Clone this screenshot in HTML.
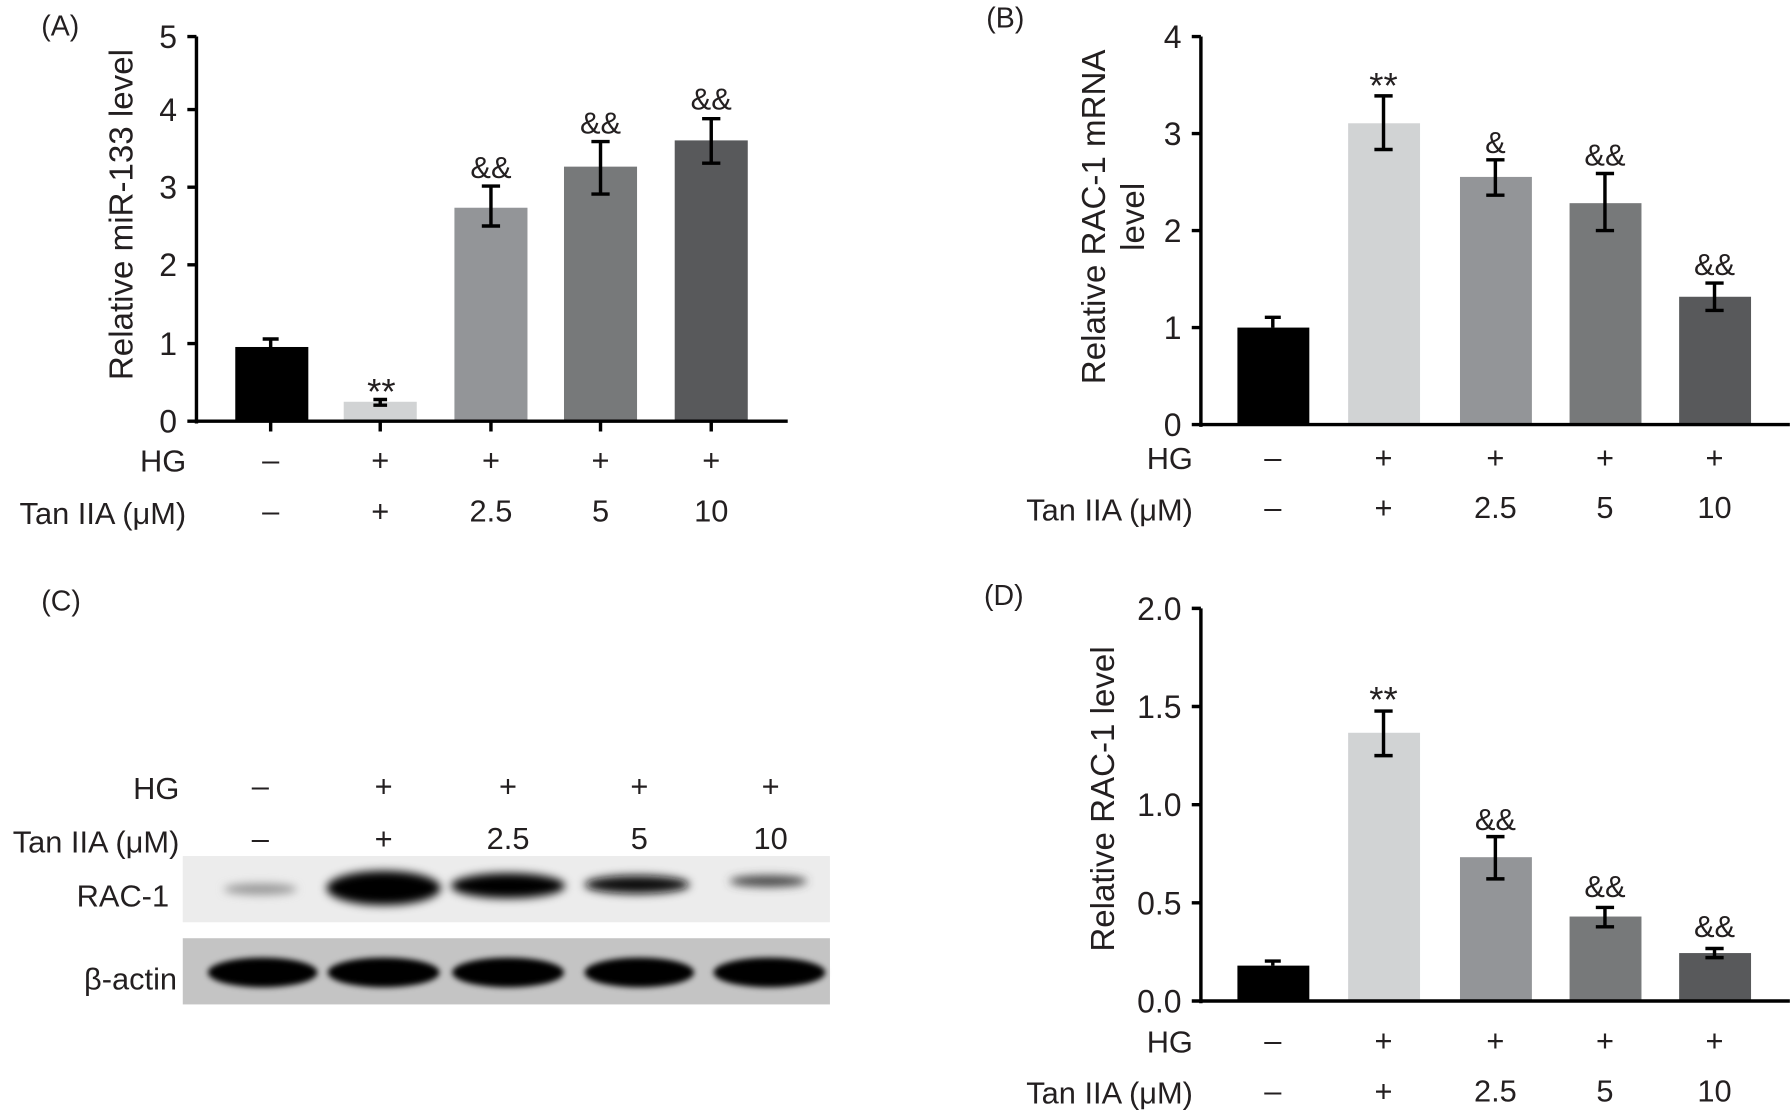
<!DOCTYPE html>
<html><head><meta charset="utf-8"><style>html,body{margin:0;padding:0;background:#fff}svg{display:block}text{font-family:"Liberation Sans",sans-serif;fill:#231f20}</style></head>
<body>
<svg width="1790" height="1114" viewBox="0 0 1568 976" xmlns="http://www.w3.org/2000/svg">
<defs>
<filter id="b1" x="-30%" y="-100%" width="160%" height="300%"><feGaussianBlur stdDeviation="4"/></filter>
<filter id="b2" x="-30%" y="-100%" width="160%" height="300%"><feGaussianBlur stdDeviation="2.5"/></filter>
</defs>
<g font-size="27" stroke-linecap="butt">
<!-- Panel A -->
<text x="36" y="31" font-size="25">(A)</text>
<text transform="translate(116,188) rotate(-90)" text-anchor="middle" font-size="29">Relative miR-133 level</text>
<g text-anchor="end" font-size="28">
<text x="155" y="42">5</text><text x="155" y="106">4</text><text x="155" y="174">3</text><text x="155" y="242">2</text><text x="155" y="311">1</text><text x="155" y="379">0</text>
</g>
<rect x="206" y="304" width="64" height="65" fill="#000"/>
<rect x="301" y="352" width="64" height="17" fill="#d1d3d4"/>
<rect x="398" y="182" width="64" height="187" fill="#939598"/>
<rect x="494" y="146" width="64" height="223" fill="#77797a"/>
<rect x="591" y="123" width="64" height="246" fill="#58595b"/>
<g stroke="#000" stroke-width="3" fill="none">
<path d="M172 32V371M164 32H172M164 96H172M164 164H172M164 232H172M164 301H172M164 369H172M170 369H690"/>
<path d="M237 369V378M333 369V378M430 369V378M526 369V378M623 369V378"/>
<path d="M237 304V297M230 297H244"/>
<path d="M333 354V350M327 350H339M327 355H339"/>
<path d="M430 198V163M422 163H438M422 198H438"/>
<path d="M526 170V124M518 124H534M518 170H534"/>
<path d="M623 143V104M615 104H631M615 143H631"/>
</g>
<g text-anchor="middle"><text x="334" y="354" font-size="32">**</text><text x="430" y="156">&amp;&amp;</text><text x="526" y="117">&amp;&amp;</text><text x="623" y="96">&amp;&amp;</text></g>
<g text-anchor="middle"><text x="237" y="412">–</text><text x="333" y="412">+</text><text x="430" y="412">+</text><text x="526" y="412">+</text><text x="623" y="412">+</text>
<text x="237" y="457">–</text><text x="333" y="457">+</text><text x="430" y="457">2.5</text><text x="526" y="457">5</text><text x="623" y="457">10</text></g>
<text x="163" y="413" text-anchor="end">HG</text><text x="163" y="459" text-anchor="end">Tan IIA (μM)</text>

<!-- Panel B -->
<text x="864" y="24" font-size="25">(B)</text>
<text transform="translate(968,190) rotate(-90)" text-anchor="middle" font-size="29">Relative RAC-1 mRNA</text>
<text transform="translate(1002,190) rotate(-90)" text-anchor="middle" font-size="29">level</text>
<g text-anchor="end" font-size="28"><text x="1035" y="42">4</text><text x="1035" y="127">3</text><text x="1035" y="212">2</text><text x="1035" y="297">1</text><text x="1035" y="382">0</text></g>
<rect x="1084" y="287" width="63" height="85" fill="#000"/>
<rect x="1181" y="108" width="63" height="264" fill="#d1d3d4"/>
<rect x="1279" y="155" width="63" height="217" fill="#939598"/>
<rect x="1375" y="178" width="63" height="194" fill="#77797a"/>
<rect x="1471" y="260" width="63" height="112" fill="#58595b"/>
<g stroke="#000" stroke-width="3" fill="none">
<path d="M1052 32V374M1044 32H1052M1044 117H1052M1044 202H1052M1044 287H1052M1044 372H1052M1050 372H1568"/>
<path d="M1115 287V278M1108 278H1122"/>
<path d="M1212 131V84M1204 84H1220M1204 131H1220"/>
<path d="M1310 171V140M1302 140H1318M1302 171H1318"/>
<path d="M1406 202V152M1398 152H1414M1398 202H1414"/>
<path d="M1502 272V248M1494 248H1510M1494 272H1510"/>
</g>
<g text-anchor="middle"><text x="1212" y="86" font-size="32">**</text><text x="1310" y="134">&amp;</text><text x="1406" y="145">&amp;&amp;</text><text x="1502" y="241">&amp;&amp;</text></g>
<g text-anchor="middle"><text x="1115" y="410">–</text><text x="1212" y="410">+</text><text x="1310" y="410">+</text><text x="1406" y="410">+</text><text x="1502" y="410">+</text>
<text x="1115" y="454">–</text><text x="1212" y="454">+</text><text x="1310" y="454">2.5</text><text x="1406" y="454">5</text><text x="1502" y="454">10</text></g>
<text x="1045" y="411" text-anchor="end">HG</text><text x="1045" y="456" text-anchor="end">Tan IIA (μM)</text>

<!-- Panel D -->
<text x="862" y="530" font-size="25">(D)</text>
<text transform="translate(976,700) rotate(-90)" text-anchor="middle" font-size="29">Relative RAC-1 level</text>
<g text-anchor="end" font-size="28"><text x="1035" y="543">2.0</text><text x="1035" y="629">1.5</text><text x="1035" y="715">1.0</text><text x="1035" y="801">0.5</text><text x="1035" y="887">0.0</text></g>
<rect x="1084" y="846" width="63" height="31" fill="#000"/>
<rect x="1181" y="642" width="63" height="235" fill="#d1d3d4"/>
<rect x="1279" y="751" width="63" height="126" fill="#939598"/>
<rect x="1375" y="803" width="63" height="74" fill="#77797a"/>
<rect x="1471" y="835" width="63" height="42" fill="#58595b"/>
<g stroke="#000" stroke-width="3" fill="none">
<path d="M1052 533V879M1044 533H1052M1044 619H1052M1044 705H1052M1044 791H1052M1044 877H1052M1050 877H1568"/>
<path d="M1115 846V842M1108 842H1122"/>
<path d="M1212 662V623M1204 623H1220M1204 662H1220"/>
<path d="M1310 770V733M1302 733H1318M1302 770H1318"/>
<path d="M1406 812V795M1398 795H1414M1398 812H1414"/>
<path d="M1502 839V831M1494 831H1510M1494 839H1510"/>
</g>
<g text-anchor="middle"><text x="1212" y="624" font-size="32">**</text><text x="1310" y="727">&amp;&amp;</text><text x="1406" y="786">&amp;&amp;</text><text x="1502" y="821">&amp;&amp;</text></g>
<g text-anchor="middle"><text x="1115" y="921">–</text><text x="1212" y="921">+</text><text x="1310" y="921">+</text><text x="1406" y="921">+</text><text x="1502" y="921">+</text>
<text x="1115" y="965">–</text><text x="1212" y="965">+</text><text x="1310" y="965">2.5</text><text x="1406" y="965">5</text><text x="1502" y="965">10</text></g>
<text x="1045" y="922" text-anchor="end">HG</text><text x="1045" y="967" text-anchor="end">Tan IIA (μM)</text>

<!-- Panel C -->
<text x="36" y="535" font-size="25">(C)</text>
<g text-anchor="middle"><text x="228" y="698">–</text><text x="336" y="698">+</text><text x="445" y="698">+</text><text x="560" y="698">+</text><text x="675" y="698">+</text>
<text x="228" y="744">–</text><text x="336" y="744">+</text><text x="445" y="744">2.5</text><text x="560" y="744">5</text><text x="675" y="744">10</text></g>
<text x="157" y="700" text-anchor="end">HG</text><text x="157" y="747" text-anchor="end">Tan IIA (μM)</text>
<text x="148" y="794" text-anchor="end">RAC-1</text><text x="155" y="867" text-anchor="end">β-actin</text>
<rect x="160" y="750" width="567" height="58" fill="#ececec"/>
<rect x="160" y="822" width="567" height="58" fill="#c4c4c4"/>
<g filter="url(#b1)">
<ellipse cx="228" cy="779" rx="32" ry="5" fill="#999"/>
<ellipse cx="336" cy="778" rx="50" ry="15" fill="#000"/>
<ellipse cx="445" cy="776" rx="50" ry="11" fill="#000"/>
<ellipse cx="558" cy="775" rx="46" ry="8" fill="#111"/>
<ellipse cx="673" cy="772" rx="34" ry="5" fill="#444"/>
</g>
<g filter="url(#b2)">
<ellipse cx="230" cy="852" rx="48" ry="13" fill="#000"/>
<ellipse cx="336" cy="852" rx="49" ry="13" fill="#000"/>
<ellipse cx="445" cy="852" rx="49" ry="13" fill="#000"/>
<ellipse cx="560" cy="852" rx="48" ry="13" fill="#000"/>
<ellipse cx="674" cy="852" rx="49" ry="13" fill="#000"/>
</g>
</g>
</svg>
</body></html>
